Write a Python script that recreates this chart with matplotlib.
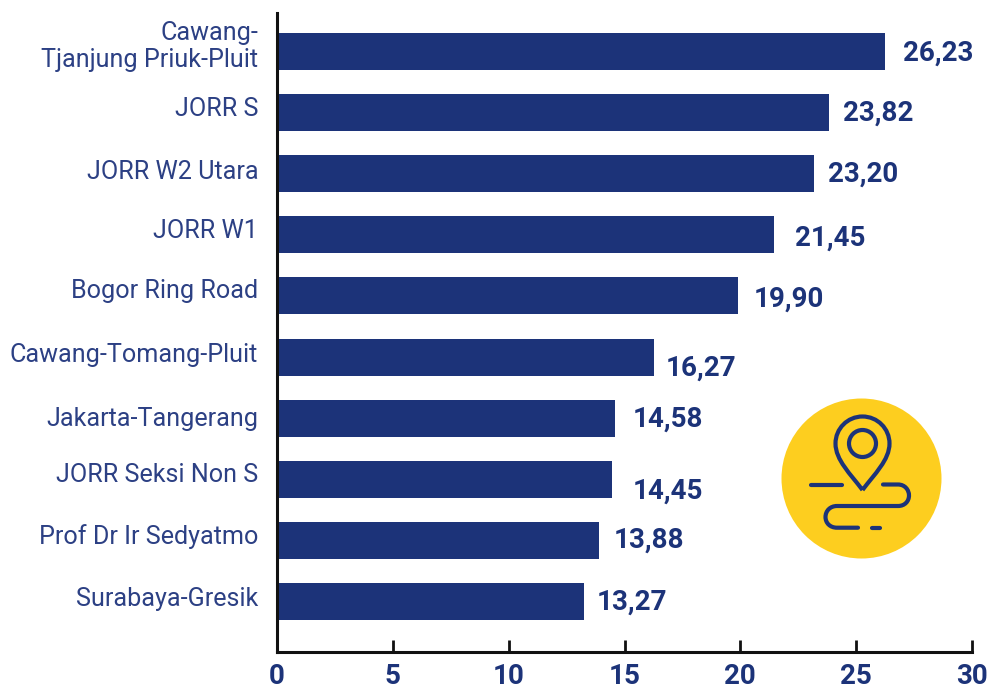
import matplotlib
matplotlib.use("Agg")
import matplotlib.pyplot as plt
from matplotlib.patches import Circle, PathPatch
from matplotlib.path import Path
from matplotlib.transforms import ScaledTranslation

categories = ["Cawang-\nTjanjung Priuk-Pluit", "JORR S", "JORR W2 Utara", "JORR W1",
              "Bogor Ring Road", "Cawang-Tomang-Pluit", "Jakarta-Tangerang",
              "JORR Seksi Non S", "Prof Dr Ir Sedyatmo", "Surabaya-Gresik"]
values = [26.23, 23.82, 23.20, 21.45, 19.90, 16.27, 14.58, 14.45, 13.88, 13.27]
value_labels = ["26,23", "23,82", "23,20", "21,45", "19,90", "16,27", "14,58", "14,45", "13,88", "13,27"]
xticks = [0, 5, 10, 15, 20, 25, 30]

# per-label hand placement in the source graphic (pixels: dx from bar end, dy from bar centre)
value_dx = [18, 14, 14, 21, 16, 12, 18, 21, 15, 12]
value_dy = [2, 1, 0, 3, 3, 11, 1, 12, 0, 1]
cat_dy = [-9, -6, -4, -6, -7, -5, -2, -7, -6, -5]

NAVY = "#1c3379"
TEXT = "#2c4084"
YEL = "#fdce1f"
W, H = 1004, 689

fig = plt.figure(figsize=(W / 100, H / 100), dpi=100, facecolor="white")
ax = fig.add_axes([277 / W, 1 - 652 / H, (972 - 277) / W, (652 - 13) / H])
y = list(range(len(values)))
ax.barh(y, values, height=0.605, color=NAVY)
ax.set_xlim(0, 30)
ax.set_ylim(9.827, -0.63)
for s in ("top", "right"):
    ax.spines[s].set_visible(False)
for s in ("left", "bottom"):
    ax.spines[s].set_linewidth(2.2)
    ax.spines[s].set_color("#111111")
ax.set_xticks(xticks)
ax.tick_params(axis="x", direction="in", length=8.5, width=2, color="#111111", pad=8)
for t in ax.get_xticklabels():
    t.set(family="Roboto", weight="bold", fontsize=20, color=NAVY)
ax.set_yticks(y, categories)
ax.tick_params(axis="y", length=0, pad=13.5)
for t, dy in zip(ax.get_yticklabels(), cat_dy):
    t.set(family="Roboto", weight="normal", fontsize=18.1, color=TEXT, linespacing=1.14)
    t.set_transform(t.get_transform() + ScaledTranslation(0, -dy / 100, fig.dpi_scale_trans))

for yi, v, lab, dx, dy in zip(y, values, value_labels, value_dx, value_dy):
    ax.annotate(lab, (v, yi), xytext=(dx * 0.72, -dy * 0.72), textcoords="offset points",
                ha="left", va="center", family="Roboto", weight="bold", fontsize=20, color=NAVY)

# decorative route icon, in figure pixel coordinates
ic = fig.add_axes([0, 0, 1, 1], facecolor="none")
ic.set_xlim(0, W)
ic.set_ylim(H, 0)
ic.axis("off")
ic.add_patch(Circle((861.5, 478.5), 80, color=YEL, lw=0))
kw = dict(fill=False, edgecolor=NAVY, lw=3.0)
cx, cy, r = 862.5, 443.5, 27
k = 0.5523 * r
tip = (cx, 490)
pin = [tip, (cx - 12, 474), (cx - r, 460), (cx - r, cy),
       (cx - r, cy - k), (cx - k, cy - r), (cx, cy - r),
       (cx + k, cy - r), (cx + r, cy - k), (cx + r, cy),
       (cx + r, 460), (cx + 12, 474), tip]
ic.add_patch(PathPatch(Path(pin, [Path.MOVETO] + [Path.CURVE4] * 12), joinstyle="miter", **kw))
ic.add_patch(Circle((cx, cy), 13.5, **kw))
route = [(883, 484.5), (898, 484.5),
         (905, 484.5), (909, 490), (909, 495.5),
         (909, 501), (905, 506), (898, 506),
         (837, 506),
         (830, 506), (825.5, 511), (825.5, 517),
         (825.5, 523), (830, 527.7), (837, 527.7),
         (858, 527.7)]
codes = [Path.MOVETO, Path.LINETO] + [Path.CURVE4] * 6 + [Path.LINETO] + [Path.CURVE4] * 6 + [Path.LINETO]
ic.add_patch(PathPatch(Path(route, codes), capstyle="round", **kw))
for a, b, yy in [(811.5, 842, 484.5), (872, 880, 527.7)]:
    ic.plot([a, b], [yy, yy], color=NAVY, lw=3.0, solid_capstyle="round")

fig.savefig("out.png", dpi=100)
